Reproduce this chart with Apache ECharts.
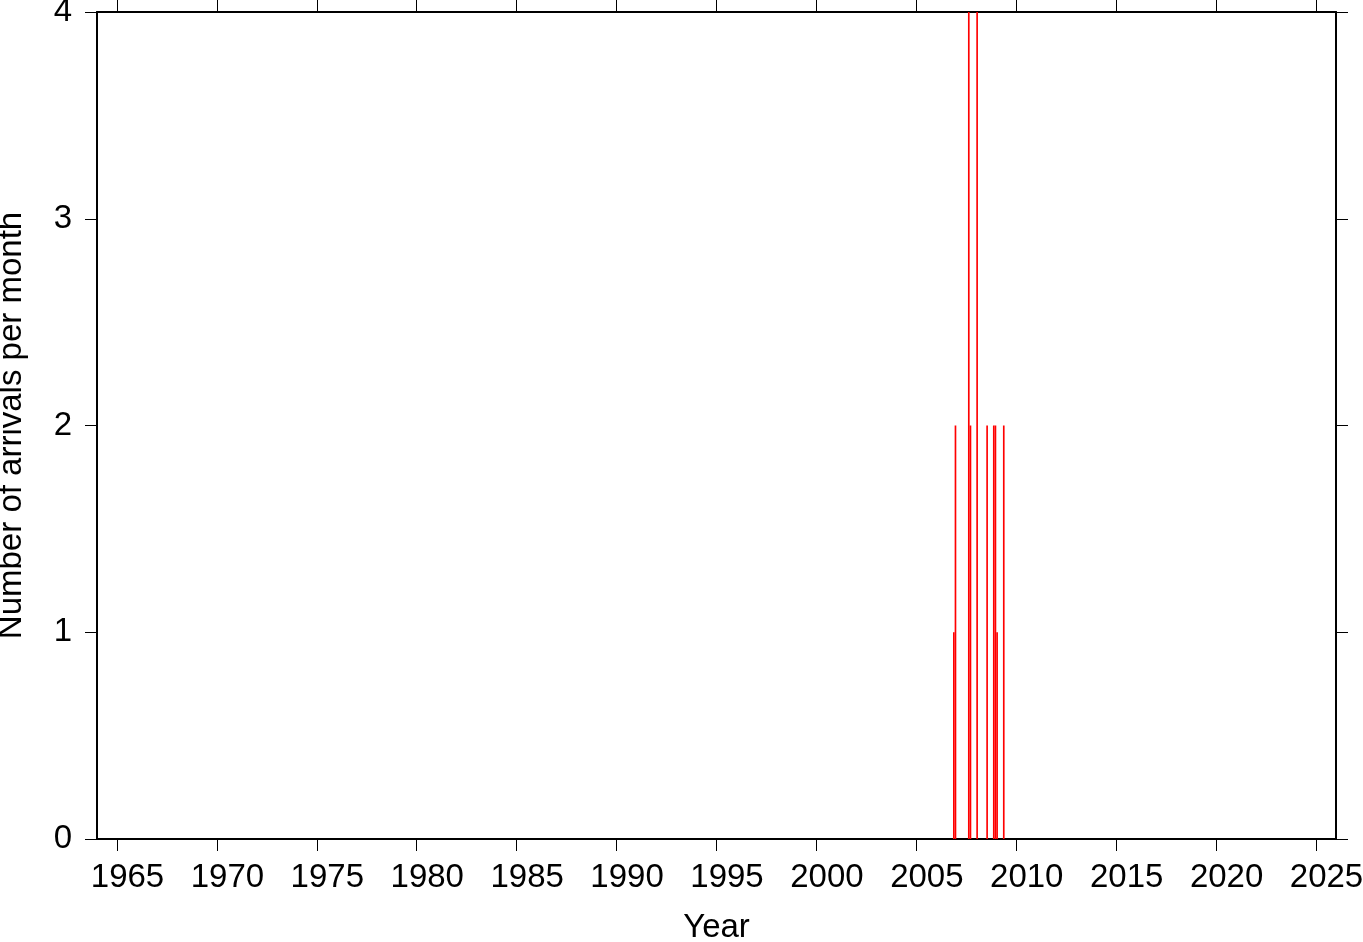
<!DOCTYPE html>
<html>
<head>
<meta charset="utf-8">
<script src="https://cdn.jsdelivr.net/npm/echarts@6/dist/echarts.min.js"></script>
<style>
html,body{margin:0;padding:0;background:#fff;}
#chart{width:1363px;height:942px;}
</style>
</head>
<body>
<div id="chart"></div>
<script>
// Monthly bins (YYYY-MM) and number of arrivals in each
const months = ['2006-11','2006-12','2007-08','2007-09','2008-01','2008-07','2008-11','2008-12','2009-01','2009-05'];
const counts = [1, 2, 4, 2, 4, 2, 2, 2, 1, 2];
const xTickYears = [1965,1970,1975,1980,1985,1990,1995,2000,2005,2010,2015,2020,2025];
const yTicks = [0,1,2,3,4];
const xTitle = 'Year';
const yTitle = 'Number of arrivals per month';

const barData = months.map((m, i) => {
  const [y, mo] = m.split('-').map(Number);
  const start = y + (mo - 1) / 12;
  return [start, start + 1 / 12, counts[i]];
});

const font = 'Liberation Sans, Arial, Helvetica, sans-serif';
const fs = 33;
const chart = echarts.init(document.getElementById('chart'), null, {renderer: 'canvas'});
const axisLineStyle = {color: '#000', width: 2};
const tickStyle = {color: '#000', width: 1};

chart.setOption({
  animation: false,
  backgroundColor: '#fff',
  grid: {left: 97, right: 27, top: 12, bottom: 103, containLabel: false, outerBoundsMode: 'none'},
  xAxis: [{
    type: 'value', min: 1964, max: 2026, position: 'bottom',
    splitLine: {show: false},
    axisLine: {show: true, onZero: false, lineStyle: axisLineStyle},
    axisTick: {show: true, inside: false, length: 12, lineStyle: tickStyle, customValues: xTickYears},
    axisLabel: {show: true, margin: 22, fontSize: fs, color: '#000', fontFamily: font, padding: [0, 0, 0, 21],
      customValues: xTickYears, formatter: v => String(v)},
    name: xTitle, nameLocation: 'middle', nameGap: 72,
    nameTextStyle: {fontSize: fs, color: '#000', fontFamily: font}
  }, {
    type: 'value', min: 1964, max: 2026, position: 'top',
    splitLine: {show: false},
    axisLine: {show: true, onZero: false, lineStyle: axisLineStyle},
    axisTick: {show: true, inside: false, length: 12, lineStyle: tickStyle, customValues: xTickYears},
    axisLabel: {show: false}
  }],
  yAxis: [{
    type: 'value', min: 0, max: 4, interval: 1, position: 'left',
    splitLine: {show: false},
    axisLine: {show: true, onZero: false, lineStyle: axisLineStyle},
    axisTick: {show: true, inside: false, length: 12, lineStyle: tickStyle},
    axisLabel: {show: true, margin: 25, fontSize: fs, color: '#000', fontFamily: font, padding: [6, 0, 0, 0],
      customValues: yTicks},
    name: yTitle, nameLocation: 'middle', nameGap: 69,
    nameTextStyle: {fontSize: fs, color: '#000', fontFamily: font}
  }, {
    type: 'value', min: 0, max: 4, interval: 1, position: 'right',
    splitLine: {show: false},
    axisLine: {show: true, onZero: false, lineStyle: axisLineStyle},
    axisTick: {show: true, inside: false, length: 12, lineStyle: tickStyle},
    axisLabel: {show: false}
  }],
  series: [{
    type: 'custom',
    xAxisIndex: 0, yAxisIndex: 0,
    clip: true,
    data: barData,
    renderItem: function (params, api) {
      const p0 = api.coord([api.value(0), api.value(2)]);
      const p1 = api.coord([api.value(1), 0]);
      return {
        type: 'rect',
        shape: {x: p0[0], y: p0[1], width: p1[0] - p0[0], height: p1[1] - p0[1]},
        style: {fill: '#ff0000'}
      };
    }
  }]
});
</script>
</body>
</html>
